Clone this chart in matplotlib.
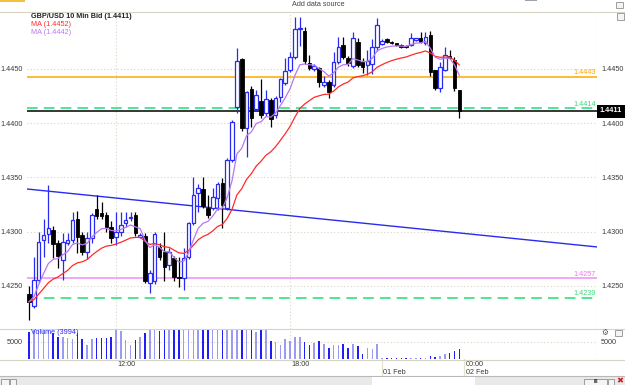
import numpy as np
import pandas as pd
import matplotlib
matplotlib.use('Agg')
import matplotlib.pyplot as plt
from matplotlib.patches import Rectangle
from matplotlib.lines import Line2D
import matplotlib.transforms as mtransforms

# ---------------- data (10-minute GBP/USD bid candles) ----------------
opens = [1.42426, 1.42320, 1.42555, 1.42924, 1.42977, 1.43016, 1.42899, 1.42740, 1.42899, 1.42924,
         1.43115, 1.42970, 1.42816, 1.42940, 1.43207, 1.43170, 1.43154, 1.43047, 1.42954, 1.43000,
         1.43078, 1.43124, 1.43154, 1.42955, 1.42961, 1.42530, 1.42546, 1.42862, 1.42816, 1.42694,
         1.42755, 1.42586, 1.42571, 1.42770, 1.43078, 1.43354, 1.43394, 1.43222, 1.43222, 1.43308,
         1.43446, 1.43216, 1.43661, 1.44147, 1.44589, 1.43959, 1.44313, 1.44129, 1.44205, 1.44092,
         1.44214, 1.44076, 1.44245, 1.44374, 1.44491, 1.44613, 1.44870, 1.44853, 1.44558, 1.44497,
         1.44506, 1.44352, 1.44383, 1.44352, 1.44567, 1.44721, 1.44599, 1.44531, 1.44746, 1.44560,
         1.44539, 1.44550, 1.44700, 1.44730, 1.44777, 1.44752, 1.44737, 1.44721, 1.44715, 1.44721,
         1.44767, 1.44783, 1.44737, 1.44813, 1.44491, 1.44322, 1.44491, 1.44623, 1.44583, 1.44306]
highs = [1.42500, 1.42767, 1.43000, 1.43115, 1.43431, 1.43053, 1.42920, 1.42990, 1.42985, 1.43185,
         1.43194, 1.43000, 1.43000, 1.43170, 1.43339, 1.43277, 1.43180, 1.43100, 1.43185, 1.43185,
         1.43185, 1.43180, 1.43185, 1.42990, 1.42990, 1.42650, 1.43000, 1.42896, 1.43000, 1.42847,
         1.42780, 1.42770, 1.42853, 1.43090, 1.43507, 1.43440, 1.43507, 1.43339, 1.43400, 1.43460,
         1.43493, 1.43677, 1.44030, 1.44690, 1.44600, 1.44300, 1.44343, 1.44310, 1.44411, 1.44303,
         1.44230, 1.44250, 1.44420, 1.44599, 1.44659, 1.44982, 1.44982, 1.44890, 1.44630, 1.44550,
         1.44520, 1.44440, 1.44400, 1.44660, 1.44797, 1.44797, 1.44620, 1.44844, 1.44783, 1.44600,
         1.44675, 1.44780, 1.44970, 1.44780, 1.44790, 1.44760, 1.44740, 1.44730, 1.44720, 1.44828,
         1.44790, 1.44844, 1.44844, 1.44850, 1.44491, 1.44560, 1.44706, 1.44675, 1.44610, 1.44310]
lows = [1.42187, 1.42300, 1.42530, 1.42770, 1.42896, 1.42758, 1.42663, 1.42555, 1.42880, 1.42895,
        1.42800, 1.42786, 1.42750, 1.42900, 1.43120, 1.43120, 1.43000, 1.42900, 1.42880, 1.42960,
        1.43040, 1.43100, 1.42960, 1.42940, 1.42530, 1.42433, 1.42520, 1.42740, 1.42546, 1.42648,
        1.42550, 1.42494, 1.42463, 1.42750, 1.43060, 1.43185, 1.43220, 1.43130, 1.43200, 1.43200,
        1.43032, 1.43200, 1.43640, 1.44092, 1.43930, 1.43692, 1.43968, 1.44110, 1.44050, 1.44070,
        1.43968, 1.44050, 1.44200, 1.44350, 1.44470, 1.44590, 1.44715, 1.44550, 1.44490, 1.44480,
        1.44338, 1.44330, 1.44230, 1.44330, 1.44550, 1.44590, 1.44530, 1.44510, 1.44520, 1.44460,
        1.44445, 1.44450, 1.44670, 1.44720, 1.44740, 1.44730, 1.44710, 1.44690, 1.44690, 1.44710,
        1.44760, 1.44740, 1.44720, 1.44440, 1.44306, 1.44288, 1.44480, 1.44590, 1.44300, 1.44046]
closes = [1.42355, 1.42555, 1.42908, 1.42970, 1.43032, 1.42884, 1.42777, 1.42908, 1.42924, 1.43108,
          1.42949, 1.42816, 1.42940, 1.43154, 1.43145, 1.43145, 1.43047, 1.42940, 1.43000, 1.43062,
          1.43108, 1.43139, 1.42985, 1.42970, 1.42546, 1.42617, 1.42977, 1.42770, 1.42678, 1.42811,
          1.42586, 1.42571, 1.42755, 1.43078, 1.43339, 1.43406, 1.43240, 1.43154, 1.43316, 1.43437,
          1.43247, 1.43661, 1.44014, 1.44576, 1.43953, 1.44291, 1.44046, 1.44264, 1.44076, 1.44223,
          1.44039, 1.44230, 1.44405, 1.44484, 1.44613, 1.44866, 1.44880, 1.44576, 1.44512, 1.44527,
          1.44383, 1.44383, 1.44291, 1.44567, 1.44705, 1.44613, 1.44553, 1.44783, 1.44537, 1.44520,
          1.44576, 1.44700, 1.44910, 1.44760, 1.44752, 1.44737, 1.44720, 1.44705, 1.44700, 1.44783,
          1.44783, 1.44752, 1.44798, 1.44475, 1.44322, 1.44522, 1.44629, 1.44599, 1.44322, 1.44110]
volumes = [6340, 6900, 6900, 6900, 6900, 6110, 5680, 5680, 5450, 5360,
           6110, 5360, 4560, 5360, 5540, 5450, 5540, 5680, 6900, 6420,
           5220, 4560, 5220, 5680, 6110, 6550, 6550, 6420, 6900, 6900,
           6900, 6900, 6900, 6900, 6900, 6900, 6900, 6900, 6900, 6550,
           6900, 6900, 6900, 6900, 6900, 6900, 6900, 6330, 6900, 6900,
           5090, 4920, 4560, 5320, 5090, 5660, 5580, 5000, 4560, 4870,
           5090, 4690, 4120, 4560, 4560, 4690, 4220, 4690, 4430, 3370,
           4120, 4030, 4690, 2850, 2850, 2850, 2850, 2850, 2850, 2850,
           2850, 2850, 2850, 3100, 3030, 3160, 3330, 3460, 3820, 3994]

price_ticks = [1.4250, 1.4300, 1.4350, 1.4400, 1.4450]
volume_ticks = [5000]
time_tick_idx = [18, 54, 90]
time_tick_labels = ['12:00', '18:00', '00:00']
grid_time_idx = [18, 54]
date_tick_idx = [73, 90]
date_tick_labels = ['01 Feb', '02 Feb']
level_values = [1.4443, 1.4414, 1.4257, 1.4239]
level_labels = ['1.4443', '1.4414', '1.4257', '1.4239']
last_price = 1.4411
trend_x = [-0.41, 117.48]
trend_y = [1.43394, 1.42860]
title_text = 'GBP/USD 10 Min Bid (1.4411)'
ma_slow_label = 'MA (1.4452)'
ma_fast_label = 'MA (1.4442)'
volume_label = 'Volume (3994)'

# ---------------- figure ----------------
plt.rcParams['font.family'] = ['Liberation Sans', 'DejaVu Sans']
W, H = 625, 385
fig = plt.figure(figsize=(W / 100, H / 100), dpi=100, facecolor='white')

def fx(x):
    return x / W

def fy(y):
    return 1 - y / H

L_PX, R_PX = 27, 597
MAIN_TOP, MAIN_BOT = 12, 328.5
VOL_BOT = 359
ax = fig.add_axes([fx(L_PX), fy(MAIN_BOT), (R_PX - L_PX) / W, (MAIN_BOT - MAIN_TOP) / H])
axv = fig.add_axes([fx(L_PX), fy(VOL_BOT), (R_PX - L_PX) / W, (VOL_BOT - MAIN_BOT) / H], sharex=ax)

n = len(closes)
idx = np.arange(n)
o = np.array(opens); h = np.array(highs); l = np.array(lows); c = np.array(closes)
up = c >= o

XMIN, XMAX = -0.414, 117.48
ax.set_xlim(XMIN, XMAX)
ax.set_ylim(1.421083, 1.450253)
axv.set_ylim(2730, 6746)

grid_col = '#d9d5c3'
tick_col = '#3a3a3a'
fs = 5.2
for a in (ax, axv):
    a.set_facecolor('white')
    for s in a.spines.values():
        s.set_visible(False)
    a.tick_params(axis='x', bottom=False, labelbottom=False)
    a.tick_params(axis='y', length=0, labelsize=fs, labelcolor=tick_col,
                  left=False, right=False, labelleft=True, labelright=True, pad=3)
    a.grid(axis='y', color=grid_col, linestyle=(0, (1, 2)), linewidth=0.8)
    a.set_axisbelow(True)

ax.set_yticks(price_ticks)
ax.set_yticklabels([f'{t:.4f}' for t in price_ticks])
axv.set_yticks(volume_ticks)
axv.set_yticklabels([str(t) for t in volume_ticks])

# right edge line
for a in (ax, axv):
    a.axvline(XMAX, color='#e3dfd0', lw=0.8)

# vertical time grid (dotted) and date lines (solid)
for xi in grid_time_idx:
    ax.axvline(xi, color=grid_col, linestyle=(0, (1, 2)), lw=0.8, zorder=0)
    axv.axvline(xi, color=grid_col, linestyle=(0, (1, 2)), lw=0.8, zorder=0)
trans_xd_yf = mtransforms.blended_transform_factory(ax.transData, fig.transFigure)
for xi in date_tick_idx:
    fig.add_artist(Line2D([xi, xi], [fy(MAIN_TOP), fy(376)], transform=trans_xd_yf,
                          color='#e6e2d2', lw=0.9, zorder=0))

# trend line
ax.plot(trend_x, trend_y, color='#2a2af0', lw=1.0, zorder=2, solid_capstyle='butt')

# horizontal levels
ax.axhline(level_values[0], color='#ffa800', lw=1.1, zorder=2)
ax.axhline(level_values[1], color='#22dd77', lw=1.1, linestyle=(0, (7, 4)), zorder=2)
ax.axhline(last_price, color='black', lw=1.1, zorder=2)
ax.axhline(level_values[2], color='#f08ef0', lw=1.1, zorder=2)
ax.axhline(level_values[3], color='#22dd77', lw=1.1, linestyle=(0, (7, 4)), zorder=2)
level_cols = ['#ffa800', '#33dd77', '#ee77ee', '#33dd77']
ytr = ax.get_yaxis_transform()
for v, lab, col in zip(level_values, level_labels, level_cols):
    ax.text(0.998, v + 0.00005, lab, transform=ytr, ha='right', va='bottom',
            fontsize=fs, color=col, zorder=6)

# candles
body_w = 0.74
wick_col = np.where(up, '#2a2af5', 'black')
ax.vlines(idx, l, h, colors=wick_col, lw=0.9, zorder=3)
body_bot = np.minimum(o, c)
body_h = np.maximum(np.abs(c - o), 0.00003)
ax.bar(idx[up], body_h[up], bottom=body_bot[up], width=body_w, facecolor='white',
       edgecolor='#2a2af5', linewidth=0.9, zorder=3.5)
ax.bar(idx[~up], body_h[~up], bottom=body_bot[~up], width=body_w, facecolor='black',
       edgecolor='black', linewidth=0.6, zorder=3.5)

# moving averages
cs = pd.Series(closes)
ma_slow = cs.ewm(span=20, adjust=False).mean()
ma_fast = cs.ewm(span=8, adjust=False).mean()
ax.plot(idx, ma_slow, color='#ff2a2a', lw=0.9, zorder=4)
ax.plot(idx, ma_fast, color='#b878f0', lw=0.9, zorder=4)

# legend texts
fig.text(fx(31), fy(17), title_text, fontsize=fs, fontweight='bold', color='#222222', va='center',
         family=['Liberation Sans Narrow', 'Liberation Sans', 'DejaVu Sans'])
fig.text(fx(31), fy(25), ma_slow_label, fontsize=fs, color='#ff2a2a', va='center')
fig.text(fx(31), fy(33), ma_fast_label, fontsize=fs, color='#b878f0', va='center')

# last price box
fig.patches.append(Rectangle((fx(597), fy(117.5)), 28 / W, 13 / H, transform=fig.transFigure,
                             facecolor='black', edgecolor='none', zorder=5))
fig.text(fx(611), fy(111), f'{last_price:.4f}', fontsize=fs, fontweight='bold', color='white',
         ha='center', va='center', zorder=6)

# volume bars
vol_col = np.where(up, '#9b9bf2', '#1e1ef5')
axv.bar(idx, volumes, width=0.32, color=vol_col, zorder=3)
fig.text(fx(31), fy(333), volume_label, fontsize=fs, color='#2a2af5', va='center', zorder=6)

# time / date labels
off = mtransforms.offset_copy(trans_xd_yf, fig=fig, x=1.5, y=0, units='dots')
for xi, lab in zip(time_tick_idx, time_tick_labels):
    fig.text(xi, fy(364), lab, transform=off, fontsize=fs, color=tick_col, ha='left', va='center')
for xi, lab in zip(date_tick_idx, date_tick_labels):
    fig.text(xi, fy(372), lab, transform=off, fontsize=fs, color=tick_col, ha='left', va='center')

# frame lines / chrome
def hline_px(y, x0=0, x1=W, col='#d8d4c4', lw=0.8):
    fig.add_artist(Line2D([fx(x0), fx(x1)], [fy(y), fy(y)], transform=fig.transFigure, color=col, lw=lw))

hline_px(11.5)
hline_px(MAIN_BOT)
hline_px(VOL_BOT + 0.7)
hline_px(376, col='#b8b8b8')
fig.patches.append(Rectangle((0, 0), 1, 9 / H, transform=fig.transFigure,
                             facecolor='#e9e9e9', edgecolor='none', zorder=1))
fig.patches.append(Rectangle((fx(371.5), 0), 103.5 / W, 8 / H, transform=fig.transFigure,
                             facecolor='white', edgecolor='none', zorder=2))
fig.patches.append(Rectangle((0, fy(1.5)), 25 / W, 1.5 / H, transform=fig.transFigure,
                             facecolor='#f2c040', edgecolor='none', zorder=2))
fig.patches.append(Rectangle((fx(525), fy(1)), 12 / W, 1 / H, transform=fig.transFigure,
                             facecolor='#a0a0b0', edgecolor='none', zorder=2))
fig.text(fx(292), fy(4.5), 'Add data source', fontsize=fs, color='#444444', va='center')

def small_box(x, y, w=7, hh=6):
    fig.patches.append(Rectangle((fx(x), fy(y + hh)), w / W, hh / H, transform=fig.transFigure,
                                 facecolor='#f4f4f4', edgecolor='#909090', lw=0.6, zorder=3))

small_box(615.5, 2)
small_box(616.5, 13.5)
small_box(614.5, 329.5)
fig.text(fx(605), fy(333), '\u2699', fontsize=5.5, color='#555555', ha='center', va='center')
# bottom scroll buttons
small_box(584, 378.5, w=23, hh=6)
fig.text(fx(595.5), fy(381.5), 'III', fontsize=4, color='#222222', ha='center', va='center',
         fontweight='bold')
small_box(608, 378.5, w=6, hh=6)
fig.text(fx(620), fy(381.5), '\u2716', fontsize=6, color='#d02020', ha='center', va='center')
small_box(1, 378.5, w=8, hh=6)
small_box(10, 378.5, w=6, hh=6)

fig.savefig('out.png', dpi=100, facecolor='white')
